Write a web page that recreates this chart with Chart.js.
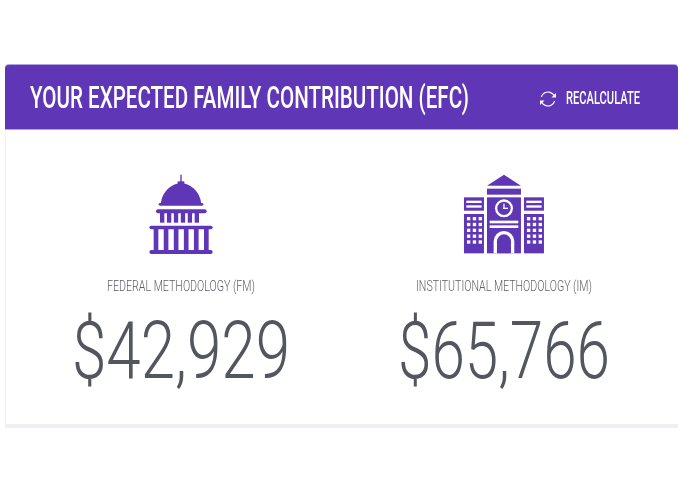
<!DOCTYPE html>
<html>
<head>
<meta charset="utf-8">
<style>
  html, body { margin: 0; padding: 0; background: #fff; }
  canvas { display: block; }
</style>
<script src="https://cdn.jsdelivr.net/npm/chart.js@4/dist/chart.umd.min.js"></script>
</head>
<body>
<canvas id="efc-chart" width="682" height="492"></canvas>
<script>
const titleText = "YOUR EXPECTED FAMILY CONTRIBUTION (EFC)";
const actionText = "RECALCULATE";
const methodologies = ["FEDERAL METHODOLOGY (FM)", "INSTITUTIONAL METHODOLOGY (IM)"];
const efcValues = [42929, 65766];

const PURPLE = "#5f37b6";
const GREY = "#54565f";

// squeeze text to a set width, the original font is a condensed one
function fittedText(ctx, text, left, baseline, width, font, color) {
  ctx.save();
  ctx.font = font;
  ctx.fillStyle = color;
  ctx.textAlign = "left";
  ctx.textBaseline = "alphabetic";
  const natural = ctx.measureText(text).width;
  ctx.translate(left, baseline);
  ctx.scale(width / natural, 1);
  ctx.fillText(text, 0, 0);
  ctx.restore();
}

function rect(ctx, x, y, w, h, color) {
  ctx.fillStyle = color;
  ctx.fillRect(x, y, w, h);
}

function pill(ctx, x, y, w, h) {
  ctx.beginPath();
  ctx.roundRect(x, y, w, h, h / 2);
  ctx.fill();
}

function drawCard(ctx) {
  rect(ctx, 5, 70, 673, 358, "#f0eff5");
  rect(ctx, 6, 70, 672, 354, "#ffffff");
  ctx.fillStyle = "#b3a2e0";
  ctx.beginPath();
  ctx.roundRect(5, 64, 673, 66, [4, 4, 0, 0]);
  ctx.fill();
  ctx.fillStyle = PURPLE;
  ctx.beginPath();
  ctx.roundRect(5, 65, 673, 64, [4, 4, 0, 0]);
  ctx.fill();
}

function drawRefresh(ctx, cx, cy) {
  ctx.save();
  ctx.strokeStyle = "#fff";
  ctx.fillStyle = "#fff";
  ctx.lineWidth = 1.2;
  ctx.beginPath();
  ctx.arc(cx, cy, 7, Math.PI * 1.1, Math.PI * 1.85);
  ctx.stroke();
  ctx.beginPath();
  ctx.arc(cx, cy, 7, Math.PI * 0.1, Math.PI * 0.85);
  ctx.stroke();
  ctx.beginPath();
  ctx.moveTo(cx + 8, cy - 6);
  ctx.lineTo(cx + 8, cy - 1.5);
  ctx.lineTo(cx + 3.5, cy - 1.5);
  ctx.fill();
  ctx.beginPath();
  ctx.moveTo(cx - 8, cy + 6);
  ctx.lineTo(cx - 8, cy + 1.5);
  ctx.lineTo(cx - 3.5, cy + 1.5);
  ctx.fill();
  ctx.restore();
}

function drawCapitol(ctx, cx) {
  ctx.save();
  ctx.translate(cx - 51, 170);
  ctx.scale(1 / 3, 1 / 3);
  ctx.fillStyle = PURPLE;
  ctx.fillRect(151, 14, 4, 24);
  ctx.fillRect(143, 34, 20, 10);
  ctx.beginPath();
  ctx.moveTo(92, 102);
  ctx.bezierCurveTo(96, 62, 128, 40, 153, 40);
  ctx.bezierCurveTo(178, 40, 210, 62, 214, 102);
  ctx.fill();
  pill(ctx, 86, 99, 134, 8);
  pill(ctx, 78, 118, 152, 12);
  for (let i = 0; i < 6; i++) ctx.fillRect(90 + i * 20.8, 128, 13, 30);
  pill(ctx, 58, 167, 190, 11);
  for (let i = 0; i < 6; i++) ctx.fillRect(71 + i * 30.2, 176, 14, 66);
  pill(ctx, 58, 240, 190, 12);
  ctx.restore();
}

function drawBuilding(ctx, cx) {
  ctx.save();
  ctx.translate(cx - 53.7, 170);
  ctx.scale(1 / 3, 1 / 3);
  ctx.fillStyle = PURPLE;
  ctx.beginPath();
  ctx.moveTo(161, 14);
  ctx.lineTo(212, 47);
  ctx.lineTo(110, 47);
  ctx.fill();
  ctx.fillRect(110, 56, 102, 18);
  ctx.fillRect(110, 82, 102, 168);
  [41, 221].forEach((x) => {
    rect(ctx, x, 82, 60, 40, PURPLE);
    rect(ctx, x + 7, 92, 46, 7, "#fff");
    rect(ctx, x + 7, 106, 46, 7, "#fff");
    rect(ctx, x, 132, 60, 118, PURPLE);
    for (let col = 0; col < 3; col++) {
      for (let row = 0; row < 5; row++) {
        rect(ctx, x + 9 + col * 17.5, 141 + row * 17.5, 10, 10, "#fff");
      }
    }
  });
  // clock
  ctx.fillStyle = "#fff";
  ctx.beginPath();
  ctx.arc(161, 115, 27, 0, Math.PI * 2);
  ctx.fill();
  ctx.fillStyle = PURPLE;
  ctx.beginPath();
  ctx.arc(161, 115, 20, 0, Math.PI * 2);
  ctx.fill();
  rect(ctx, 159, 101, 4, 16, "#fff");
  rect(ctx, 159, 113, 14, 4, "#fff");
  rect(ctx, 118, 152, 86, 8, "#fff");
  rect(ctx, 118, 166, 86, 8, "#fff");
  // door
  ctx.fillStyle = "#fff";
  ctx.beginPath();
  ctx.arc(161, 214, 31, Math.PI, 0);
  ctx.lineTo(192, 250);
  ctx.lineTo(130, 250);
  ctx.fill();
  ctx.fillStyle = PURPLE;
  ctx.beginPath();
  ctx.arc(161, 214, 21, Math.PI, 0);
  ctx.lineTo(182, 250);
  ctx.lineTo(140, 250);
  ctx.fill();
  ctx.restore();
}

const efcCard = {
  id: "efcCard",
  afterDraw(chart) {
    const ctx = chart.ctx;
    const bars = chart.getDatasetMeta(0).data;
    const labels = chart.data.labels;
    const values = chart.data.datasets[0].data;

    drawCard(ctx);
    fittedText(ctx, titleText, 30, 108, 439, "500 31px Roboto", "#fff");
    drawRefresh(ctx, 548, 99);
    fittedText(ctx, actionText, 566, 104, 74, "500 18px Roboto", "#fff");

    drawCapitol(ctx, bars[0].x);
    drawBuilding(ctx, bars[1].x);

    const labelWidths = [148, 176];
    const valueWidths = [218, 212];
    labels.forEach((label, i) => {
      const cx = bars[i].x;
      fittedText(ctx, label, cx - labelWidths[i] / 2, 291, labelWidths[i], "300 15px Roboto", "#5c5e65");
      const text = "$" + values[i].toLocaleString("en-US");
      fittedText(ctx, text, cx - valueWidths[i] / 2, 378, valueWidths[i], "300 79px Roboto", GREY);
    });
  },
};

new Chart(document.getElementById("efc-chart"), {
  type: "bar",
  data: {
    labels: methodologies,
    datasets: [{ data: efcValues, backgroundColor: "transparent" }],
  },
  options: {
    responsive: false,
    animation: false,
    devicePixelRatio: 1,
    layout: { padding: { left: 19.5, right: 16.5 } },
    plugins: { legend: { display: false }, tooltip: { enabled: false } },
    scales: { x: { display: false }, y: { display: false, beginAtZero: true } },
  },
  plugins: [efcCard],
});
</script>
</body>
</html>
